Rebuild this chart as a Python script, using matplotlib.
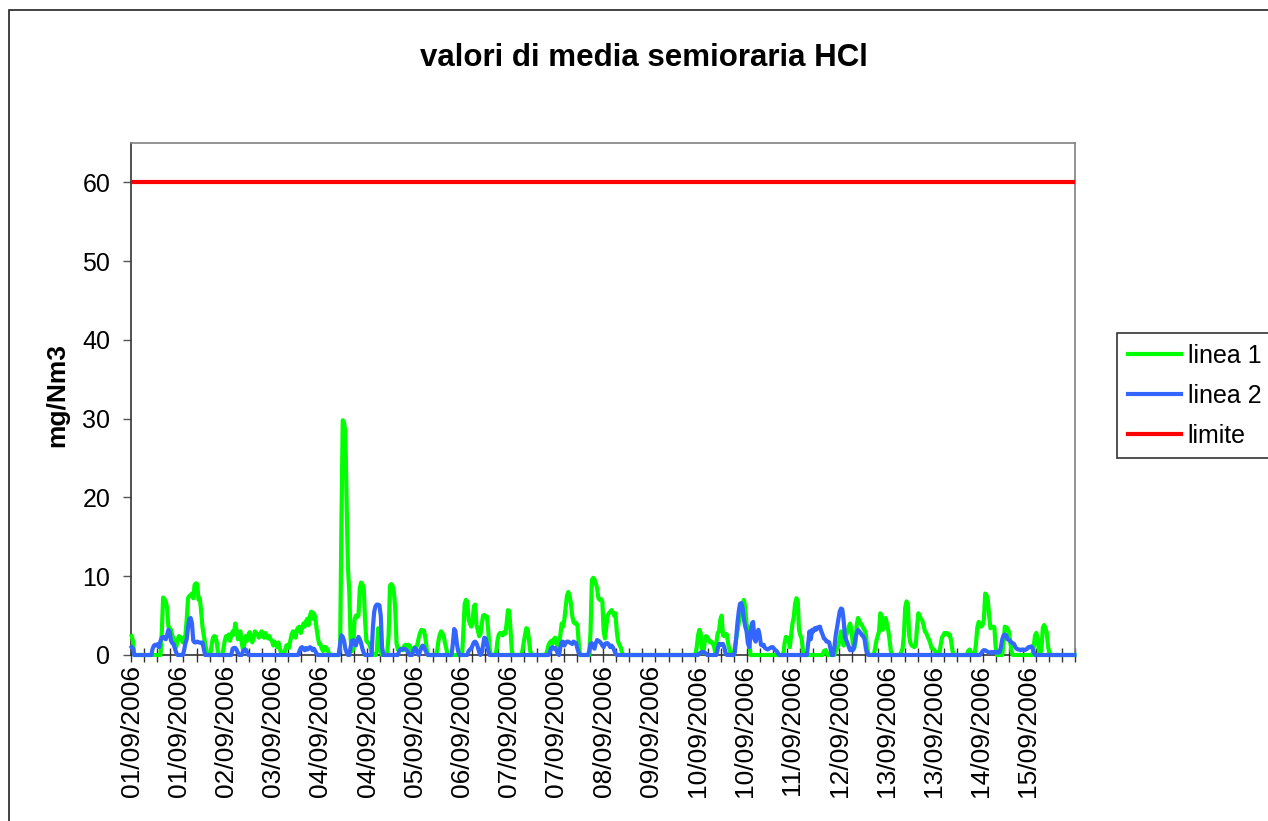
import numpy as np
import matplotlib
matplotlib.use('Agg')
import matplotlib.pyplot as plt
from matplotlib.patches import Rectangle

plt.rcParams['font.family'] = ['Liberation Sans', 'DejaVu Sans']

# half-hourly averages, 01/09/2006 00:00 -> 15/09/2006 23:30 (24 values per row = 12 h)
linea1 = [
    2.4, 1.8, 0, 0, 0, 0, 0, 0, 0, 0, 0, 0, 0, 0, 0, 0, 0, 0, 0, 0, 0, 0, 0, 3.0,
    7.3, 7.1, 6.8, 6.0, 3.6, 3.4, 3.2, 2.5, 2.0, 1.5, 1.0, 1.9, 2.4, 2.3, 2.0, 1.6, 2.2, 2.5, 4.5, 7.2, 7.5, 7.6, 7.8, 7.2,
    8.9, 9.1, 9.0, 7.0, 7.2, 5.5, 3.6, 2.5, 1.5, 0.6, 0, 0, 0, 1.2, 2.2, 2.4, 2.3, 1.5, 0, 0, 0, 0, 0.8, 1.8,
    2.4, 2.2, 2.6, 1.8, 2.5, 3.0, 2.6, 4.0, 3.2, 2.0, 2.8, 3.0, 1.5, 0.6, 1.4, 2.4, 1.8, 2.6, 2.9, 2.2, 1.6, 2.2, 3.0, 2.8,
    2.6, 2.2, 2.6, 3.0, 2.4, 2.2, 2.8, 2.5, 2.1, 2.4, 2.0, 1.8, 1.2, 1.7, 1.4, 1.0, 1.6, 0.8, 0.3, 0, 0, 0.6, 1.2, 1.3,
    0.9, 1.8, 2.6, 3.0, 2.4, 2.2, 3.2, 3.5, 3.6, 2.8, 3.4, 4.0, 3.6, 4.3, 4.6, 3.8, 5.0, 5.5, 4.6, 5.3, 4.8, 3.4, 2.3, 1.4,
    1.4, 0.8, 0.5, 1.0, 1.0, 0.8, 0.4, 0, 0, 0, 0, 0, 0, 0, 0, 1.0, 17.0, 29.8, 29.5, 28.3, 19.0, 11.0, 8.0, 2.0,
    0.5, 0.8, 4.5, 5.0, 4.8, 5.0, 8.5, 9.2, 9.0, 8.5, 4.5, 1.8, 1.6, 1.5, 1.0, 0.4, 0, 0, 0, 0.5, 3.4, 2.0, 0.6, 0,
    0, 0, 0, 0.5, 2.5, 8.8, 9.0, 8.8, 8.0, 6.0, 1.5, 0.7, 0.6, 0.8, 0.7, 0.6, 1.2, 1.3, 1.0, 1.3, 1.2, 0.8, 0.3, 0.8,
    1.0, 0.9, 1.4, 2.2, 2.8, 3.2, 3.0, 3.1, 2.2, 0.8, 0, 0, 0, 0, 0, 0, 0, 0.5, 1.8, 2.6, 3.0, 2.8, 2.4, 1.5,
    0.8, 0, 0, 0, 0, 0, 0, 0, 0, 0, 0, 0, 0, 3.0, 6.5, 7.0, 6.8, 4.5, 4.0, 3.6, 4.2, 6.2, 6.4, 3.8,
    3.2, 2.4, 2.6, 3.8, 5.0, 5.1, 4.8, 4.9, 3.0, 0.8, 0, 0, 0, 0, 0.3, 1.8, 2.6, 2.8, 2.7, 2.5, 2.9, 2.7, 4.0, 5.7,
    5.6, 3.0, 0.5, 0, 0, 0, 0, 0, 0, 0, 0.5, 1.5, 2.5, 3.4, 3.3, 2.0, 0.5, 0, 0, 0, 0, 0, 0, 0,
    0, 0, 0, 0, 0, 0.6, 1.3, 1.6, 1.8, 1.4, 2.0, 2.2, 1.8, 0.8, 1.0, 2.6, 4.0, 3.6, 4.5, 6.0, 7.5, 8.0, 7.5, 6.6,
    5.0, 4.2, 4.0, 4.1, 3.8, 1.5, 0, 0, 0, 0, 0, 0, 0, 0, 3.0, 9.5, 9.8, 9.6, 9.1, 8.5, 7.2, 7.0, 7.1, 6.8,
    3.0, 2.1, 3.5, 5.0, 5.3, 5.5, 5.7, 5.4, 5.0, 5.3, 3.0, 1.7, 1.3, 1.0, 0.3, 0, 0, 0, 0, 0, 0, 0, 0, 0,
    0, 0, 0, 0, 0, 0, 0, 0, 0, 0, 0, 0, 0, 0, 0, 0, 0, 0, 0, 0, 0, 0, 0, 0,
    0, 0, 0, 0, 0, 0, 0, 0, 0, 0, 0, 0, 0, 0, 0, 0, 0, 0, 0, 0, 0, 0, 0, 1.0,
    2.5, 3.2, 2.8, 0.8, 0.3, 1.5, 2.4, 2.3, 2.0, 1.6, 1.7, 1.5, 1.2, 0.4, 1.6, 2.8, 3.0, 4.5, 5.0, 2.5, 2.4, 2.7, 2.6, 1.4,
    0.6, 0, 0, 0, 0.8, 2.0, 3.0, 4.0, 5.0, 6.0, 6.6, 7.0, 6.0, 3.8, 3.6, 2.0, 0, 0, 0, 0, 0, 0, 0, 0,
    0, 0, 0, 0, 0, 0, 0, 0, 0, 0, 0, 0, 0, 0, 0, 0, 0, 0, 1.5, 2.3, 2.2, 2.0, 1.0, 2.5,
    4.0, 4.8, 6.5, 7.2, 7.0, 3.2, 2.5, 2.1, 0.5, 0, 0, 0, 0, 0, 0, 0, 0, 0, 0, 0, 0, 0, 0, 0,
    0.5, 0.6, 0.4, 0, 0, 0, 0, 0, 0, 0.5, 0.8, 1.2, 2.0, 3.0, 1.8, 1.2, 1.4, 2.5, 3.0, 3.6, 4.0, 3.2, 1.5, 0.8,
    1.5, 3.8, 4.7, 4.4, 4.0, 3.8, 3.4, 3.2, 2.5, 1.0, 0, 0, 0, 0, 0, 0.8, 1.8, 2.4, 3.0, 5.3, 5.0, 3.2, 4.0, 4.7,
    4.0, 3.2, 2.0, 0.5, 0, 0, 0, 0, 0, 0, 0, 0.4, 0.8, 2.5, 6.0, 6.8, 6.5, 2.5, 1.5, 1.2, 1.1, 1.0, 1.2, 3.5,
    5.3, 5.0, 4.6, 4.4, 3.8, 3.0, 2.8, 2.4, 2.0, 1.6, 0.9, 0.8, 0.7, 0.4, 0, 0, 0, 1.2, 2.2, 2.5, 2.8, 2.7, 2.8, 2.5,
    2.6, 1.8, 0.6, 0, 0, 0, 0, 0, 0, 0, 0, 0, 0, 0, 0.5, 0.7, 0.4, 0, 0, 0, 1.5, 3.5, 4.2, 4.0,
    3.6, 3.8, 4.5, 7.8, 7.6, 7.0, 5.0, 3.4, 3.6, 3.6, 3.5, 1.0, 0, 0, 0, 0, 0, 1.5, 3.6, 3.5, 3.4, 3.0, 1.8, 0.5,
    0, 0, 0, 0, 0, 0, 0, 0, 0, 0, 0, 0, 0, 0, 0, 0, 1.0, 2.5, 2.8, 2.0, 0.5, 0, 1.0, 3.5,
    3.8, 3.4, 2.8, 1.0, 0.2, 0, 0, 0, 0, 0, 0, 0, 0, 0, 0, 0, 0, 0, 0, 0, 0, 0, 0, 0,
]

linea2 = [
    1.0, 0.8, 0, 0, 0, 0, 0, 0, 0, 0, 0, 0, 0, 0, 0, 0, 0.8, 1.2, 1.3, 1.2, 1.4, 1.0, 1.8, 2.2,
    2.3, 2.2, 2.0, 2.5, 3.2, 3.0, 1.8, 1.5, 1.4, 0.8, 0.3, 0, 0, 0, 0, 0, 0.6, 1.5, 2.0, 3.5, 4.6, 4.7, 4.0, 1.8,
    1.6, 1.6, 1.7, 1.6, 1.6, 1.5, 1.6, 0.8, 0, 0, 0, 0, 0, 0, 0, 0, 0, 0, 0, 0, 0, 0, 0, 0,
    0, 0, 0, 0, 0, 0.8, 0.9, 0.9, 0.7, 0.3, 0, 0, 0, 0.5, 0.7, 0.7, 0.4, 0, 0, 0, 0, 0, 0, 0,
    0, 0, 0, 0, 0, 0, 0, 0, 0, 0, 0, 0, 0, 0, 0, 0, 0, 0, 0, 0, 0, 0, 0, 0,
    0, 0, 0, 0, 0, 0, 0, 0, 0.5, 0.9, 1.0, 0.8, 0.6, 0.9, 0.7, 0.8, 1.0, 0.9, 0.6, 0.8, 0.5, 0.2, 0, 0,
    0, 0, 0, 0, 0, 0, 0, 0, 0, 0, 0, 0, 0, 0, 0, 1.5, 2.5, 2.3, 1.8, 0.8, 0.3, 0, 0, 1.0,
    1.8, 1.9, 1.5, 1.2, 1.8, 2.3, 2.0, 1.5, 0.8, 0.3, 0, 0, 0, 0, 0, 0, 3.5, 5.5, 6.2, 6.4, 6.4, 6.3, 5.0, 1.0,
    0, 0, 0, 0, 0, 0, 0, 0, 0, 0, 0, 0, 0.5, 0.7, 0.8, 0.7, 0.8, 0.7, 0.6, 0.3, 0, 0, 0, 0.6,
    0.9, 0.7, 0.3, 0, 0.5, 1.0, 1.2, 1.0, 0.6, 0.2, 0, 0, 0, 0, 0, 0, 0, 0, 0, 0, 0, 0, 0, 0,
    0, 0, 0, 0, 0, 1.5, 3.3, 3.0, 1.5, 0.5, 0, 0, 0, 0, 0, 0, 0, 0.5, 0.7, 0.8, 1.2, 1.6, 1.7, 1.5,
    1.0, 0.4, 0, 0.3, 1.2, 2.2, 2.1, 1.4, 0.5, 0, 0, 0, 0, 0, 0, 0, 0, 0, 0, 0, 0, 0, 0, 0,
    0, 0, 0, 0, 0, 0, 0, 0, 0, 0, 0, 0, 0, 0, 0, 0, 0, 0, 0, 0, 0, 0, 0, 0,
    0, 0, 0, 0, 0, 0, 0, 0.4, 0.9, 1.0, 0.8, 0.9, 0.6, 0.2, 0, 1.0, 1.6, 1.7, 1.2, 1.5, 1.7, 1.7, 1.6, 1.5,
    1.4, 1.7, 1.6, 1.5, 0.8, 0.3, 0, 0, 0, 0, 0, 0, 0, 0.5, 1.4, 1.5, 1.0, 0.8, 1.5, 1.9, 1.8, 1.7, 1.5, 1.2,
    1.0, 1.4, 1.5, 1.5, 1.3, 1.0, 1.2, 1.0, 0.6, 0.2, 0, 0, 0, 0, 0, 0, 0, 0, 0, 0, 0, 0, 0, 0,
    0, 0, 0, 0, 0, 0, 0, 0, 0, 0, 0, 0, 0, 0, 0, 0, 0, 0, 0, 0, 0, 0, 0, 0,
    0, 0, 0, 0, 0, 0, 0, 0, 0, 0, 0, 0, 0, 0, 0, 0, 0, 0, 0, 0, 0, 0, 0, 0,
    0, 0.2, 0.3, 0.4, 0.4, 0.3, 0.2, 0, 0, 0, 0, 0, 0, 0, 0, 0.8, 1.4, 1.4, 1.3, 1.4, 1.0, 0.2, 0, 0,
    0, 0, 0, 0, 0.3, 2.0, 4.0, 5.5, 6.5, 6.6, 6.0, 4.5, 3.6, 3.0, 1.5, 1.0, 2.5, 4.0, 4.2, 2.0, 1.7, 2.8, 3.2, 2.5,
    1.3, 1.2, 1.3, 0.9, 0.8, 0.7, 0.8, 0.9, 1.0, 1.0, 0.8, 0.6, 0.5, 0.2, 0, 0, 0, 0, 0, 0, 0, 0, 0, 0,
    0, 0, 0, 0, 0, 0, 0, 0, 0, 0, 0, 0, 1.5, 3.0, 2.0, 3.2, 3.0, 3.4, 3.2, 3.5, 3.4, 3.6, 3.0, 2.6,
    2.1, 2.0, 1.7, 1.7, 1.6, 0.8, 0, 0, 1.0, 2.5, 3.5, 4.5, 5.5, 5.9, 5.8, 4.5, 2.3, 1.9, 1.5, 1.0, 0.6, 0.8, 0.6, 1.0,
    2.0, 2.8, 3.2, 3.0, 2.8, 2.5, 2.4, 2.0, 0.8, 0.2, 0, 0, 0, 0, 0, 0, 0, 0, 0, 0, 0, 0, 0, 0,
    0, 0, 0, 0, 0, 0, 0, 0, 0, 0, 0, 0, 0, 0, 0, 0, 0, 0, 0, 0, 0, 0, 0, 0,
    0, 0, 0, 0, 0, 0, 0, 0, 0, 0, 0, 0, 0, 0, 0, 0, 0, 0, 0, 0, 0, 0, 0, 0,
    0, 0, 0, 0, 0, 0, 0, 0, 0, 0, 0, 0, 0, 0, 0, 0, 0, 0, 0, 0, 0, 0, 0, 0,
    0.2, 0.5, 0.6, 0.6, 0.5, 0.4, 0.3, 0.3, 0.4, 0.3, 0.4, 0.3, 0.4, 0.3, 0.4, 1.0, 2.0, 2.5, 2.6, 2.5, 2.0, 1.9, 1.8, 1.6,
    1.5, 1.4, 1.0, 0.8, 0.7, 0.7, 0.6, 0.7, 0.7, 0.6, 0.7, 0.8, 1.0, 1.0, 1.1, 0.9, 0.4, 0, 0, 0, 0, 0, 0, 0,
    0, 0, 0, 0, 0, 0, 0, 0, 0, 0, 0, 0, 0, 0, 0, 0, 0, 0, 0, 0, 0, 0, 0, 0,
]

limite = 60

date_labels = ['01/09/2006', '01/09/2006', '02/09/2006', '03/09/2006', '04/09/2006',
               '04/09/2006', '05/09/2006', '06/09/2006', '07/09/2006', '07/09/2006',
               '08/09/2006', '09/09/2006', '10/09/2006', '10/09/2006', '11/09/2006',
               '12/09/2006', '13/09/2006', '13/09/2006', '14/09/2006', '15/09/2006']

assert len(linea1) == 720 and len(linea2) == 720

n = len(linea1)
x = np.arange(n) + 0.5
label_step = 36
tick_step = 10

W, H = 1268, 821
fig = plt.figure(figsize=(W / 100, H / 100), dpi=100)
ax = fig.add_axes([131 / W, 1 - 655 / H, 944 / W, 512 / H])

ax.plot(x, linea1, color='#00ff00', lw=3, label='linea 1', clip_on=False, zorder=3)
ax.plot(x, linea2, color='#3366ff', lw=3, label='linea 2', clip_on=False, zorder=4)
ax.plot(x, [limite] * n, color='#ff0000', lw=3, label='limite', zorder=5)

ax.set_xlim(0, n)
ax.set_ylim(0, 65)
ax.set_yticks(range(0, 61, 10))
ax.set_xticks(np.arange(0, n, label_step) + 0.5)
ax.set_xticklabels(date_labels, rotation=90)
ax.set_xticks(np.arange(0, n + 1, tick_step), minor=True)
ax.tick_params(axis='x', which='major', length=0, pad=7, labelsize=19)
ax.tick_params(axis='x', which='minor', direction='inout', length=10, width=1, color='#333333')
ax.tick_params(axis='y', direction='out', length=6, width=1, pad=9, labelsize=18, color='#555555')

for side in ['top', 'right']:
    ax.spines[side].set_color('#808080')
    ax.spines[side].set_linewidth(1.2)
ax.spines['left'].set_color('#333333')
ax.spines['bottom'].set_color('#333333')
ax.spines['left'].set_linewidth(1.2)
ax.spines['bottom'].set_linewidth(1.2)

leg = ax.legend(loc='upper left', bbox_to_anchor=(1117 / W, 1 - 333 / H),
                bbox_transform=fig.transFigure, frameon=True, fancybox=False,
                edgecolor='black', fontsize=18, borderpad=0.42, labelspacing=0.65,
                handlelength=2.15, handletextpad=0.25, borderaxespad=0)
leg.get_frame().set_linewidth(1.2)

fig.text(644 / W, 1 - 58 / H, 'valori di media semioraria HCl', ha='center', va='center',
         fontsize=22.5, fontweight='bold')
fig.text(57 / W, 1 - 395 / H, 'mg/Nm3', rotation=90, ha='center', va='center',
         fontsize=19, fontweight='bold')

fig.add_artist(Rectangle((9 / W, -0.1), 1.2, 1.1 - 10 / H, transform=fig.transFigure,
                         fill=False, edgecolor='#222222', lw=1.2))

fig.savefig('out.png', dpi=100)
